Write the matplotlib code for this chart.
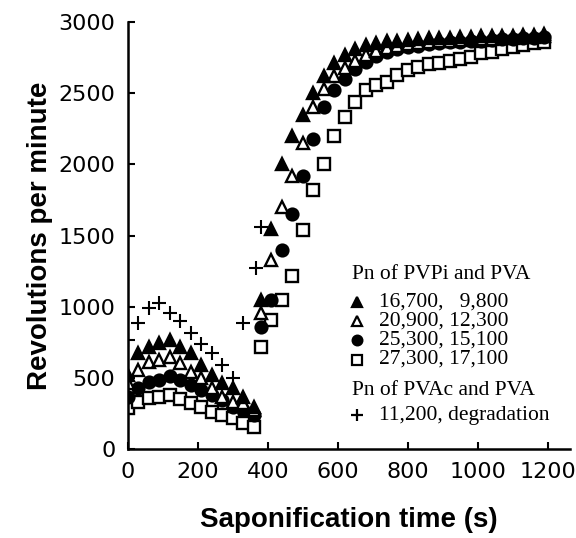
import numpy as np
import matplotlib
matplotlib.use('Agg')
import matplotlib.pyplot as plt

# saponification time (s), first stage and second stage
t1 = [0, 30, 60, 90, 120, 150, 180, 210, 240, 270, 300, 330, 360]
t2 = [380, 410, 440, 470, 500, 530, 560, 590, 620, 650, 680, 710, 740, 770,
      800, 830, 860, 890, 920, 950, 980, 1010, 1040, 1070, 1100, 1130, 1160, 1190]

# Pn of PVPi and PVA
tri_f1 = [520, 675, 717, 745, 766, 717, 675, 590, 520, 464, 429, 365, 300]
tri_f2 = [1050, 1550, 2000, 2200, 2350, 2500, 2620, 2710, 2770, 2810, 2840, 2855, 2865, 2870,
          2875, 2880, 2885, 2885, 2890, 2895, 2895, 2900, 2900, 2905, 2905, 2910, 2910, 2915]
tri_o1 = [464, 555, 611, 625, 646, 604, 541, 499, 429, 366, 330, 323, 274]
tri_o2 = [955, 1330, 1700, 1920, 2150, 2400, 2530, 2620, 2680, 2730, 2770, 2800, 2820, 2835,
          2845, 2855, 2860, 2865, 2870, 2875, 2878, 2880, 2884, 2887, 2890, 2893, 2896, 2900]
circ1 = [365, 429, 471, 485, 513, 485, 450, 415, 380, 344, 295, 274, 239]
circ2 = [857, 1047, 1400, 1650, 1920, 2180, 2400, 2520, 2600, 2670, 2720, 2760, 2790, 2810,
         2825, 2835, 2845, 2852, 2858, 2862, 2866, 2870, 2874, 2878, 2882, 2885, 2888, 2892]
sq1 = [288, 330, 358, 365, 379, 351, 323, 295, 260, 239, 218, 183, 155]
sq2 = [717, 906, 1047, 1220, 1539, 1820, 2000, 2200, 2330, 2440, 2523, 2558, 2579, 2628,
       2663, 2684, 2706, 2713, 2727, 2741, 2755, 2783, 2790, 2811, 2825, 2839, 2853, 2860]

# Pn of PVAc and PVA (degradation)
t_plus = [0, 30, 60, 90, 120, 150, 180, 210, 240, 270, 300, 330, 365, 380]
plus = [766, 885, 990, 1026, 955, 900, 815, 738, 675, 590, 499, 890, 1270, 1560]

labels = ['16,700,   9,800', '20,900, 12,300', '25,300, 15,100', '27,300, 17,100']

fig = plt.figure(figsize=(5.76, 5.38), dpi=100)
ax = fig.add_axes([0.222, 0.165, 0.768, 0.794])

ms = 8.5
mew = 1.7
style = [dict(marker='^', mfc='black', mec='black'),
         dict(marker='^', mfc='white', mec='black'),
         dict(marker='o', mfc='black', mec='black'),
         dict(marker='s', mfc='white', mec='black')]
series = [(tri_f1, tri_f2), (tri_o1, tri_o2), (circ1, circ2), (sq1, sq2)]

# squares first so the filled markers sit on top like the print
for (a, b), st in reversed(list(zip(series, style))):
    ax.plot(t1 + t2, a + b, ls='none', ms=ms, mew=mew, **st)
ax.plot(t_plus, plus, ls='none', marker='+', ms=10, mew=1.5, color='black')

ax.set_xlim(0, 1265)
ax.set_ylim(0, 3000)
ax.set_xticks([0, 200, 400, 600, 800, 1000, 1200])
ax.set_yticks([0, 500, 1000, 1500, 2000, 2500, 3000])
ax.spines['top'].set_visible(False)
ax.spines['right'].set_visible(False)
for s in ['left', 'bottom']:
    ax.spines[s].set_linewidth(1.8)
ax.tick_params(direction='in', length=5, width=1.5, labelsize=16, pad=9)
for lab in ax.get_xticklabels() + ax.get_yticklabels():
    lab.set_family('DejaVu Sans')

ax.set_xlabel('Saponification time (s)', fontsize=20, fontweight='bold',
              family='Liberation Sans', labelpad=18)
ax.set_ylabel('Revolutions per minute', fontsize=20, fontweight='bold',
              family='Liberation Sans', labelpad=4)

# legend written as text, as in the original
tx = 718
mx = 655
serif = 'Liberation Serif'
fs = 15.5
ax.text(640, 1230, 'Pn of PVPi and PVA', fontsize=fs, family=serif, va='center')
rows = [1035, 900, 765, 630]
for y, st, lab in zip(rows, style, labels):
    ax.plot([mx], [y], ls='none', ms=7, mew=1.6, **st)
    ax.text(tx, y, lab, fontsize=fs, family=serif, va='center')
ax.text(640, 410, 'Pn of PVAc and PVA', fontsize=fs, family=serif, va='center')
ax.plot([mx], [240], ls='none', marker='+', ms=9, mew=1.6, color='black')
ax.text(tx, 240, '11,200, degradation', fontsize=fs, family=serif, va='center')

plt.savefig('out.png', dpi=100)
